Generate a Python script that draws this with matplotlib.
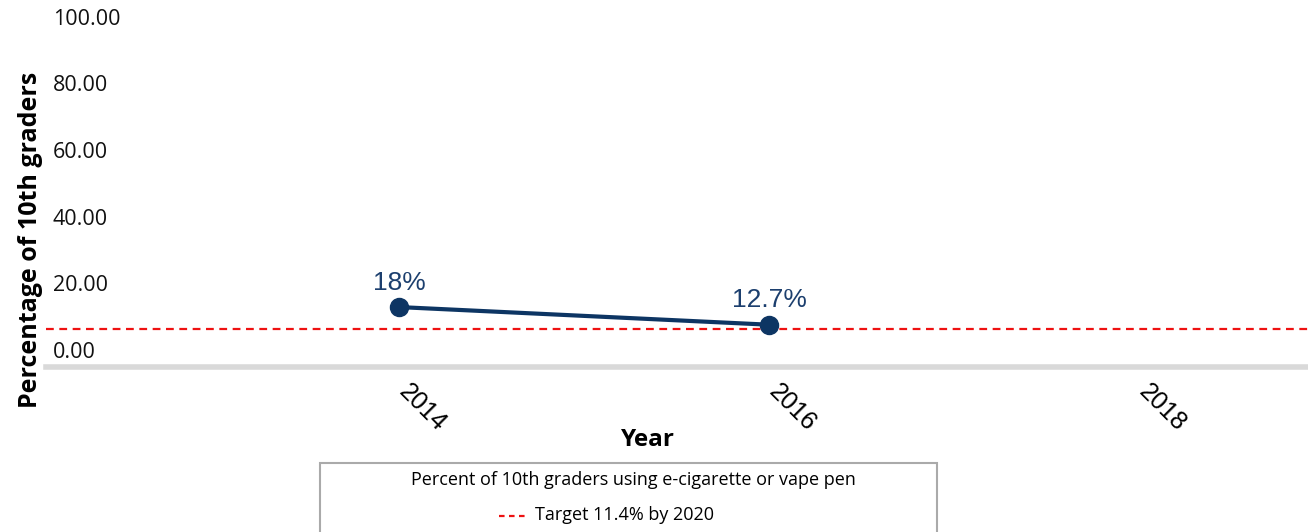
import numpy as np
import matplotlib.pyplot as plt
import matplotlib.transforms as mtransforms
from matplotlib.patches import Rectangle
from matplotlib.lines import Line2D

years = ["2014", "2016", "2018"]
values = [18.0, 12.7]
value_labels = ["18%", "12.7%"]
target = 11.4
yticks = [0, 20, 40, 60, 80, 100]

W, H = 1308, 532
fig = plt.figure(figsize=(W / 100, H / 100), dpi=100)
ax = fig.add_axes([46 / W, (H - 367) / H, (W - 46) / W, (367 - 34) / H])

x = np.arange(len(years))
ax.plot(x[:len(values)], values, color="#0d3563", lw=3, marker="o",
        ms=13, mec="#0d3563", mfc="#0d3563", zorder=4, clip_on=False)
for xi, v, lab in zip(x, values, value_labels):
    ax.annotate(lab, (xi, v), xytext=(0, 9), textcoords="offset points",
                ha="center", va="bottom", fontsize=19, color="#1c3f6e",
                family="Liberation Sans")

ax.axhline(target, color="#ee1111", lw=1.6, ls=(0, (3.5, 2.5)), zorder=3)

ax.set_ylim(0, 100)
ax.set_xlim(-0.954, 2.457)
for s in ["top", "right", "left"]:
    ax.spines[s].set_visible(False)
ax.spines["bottom"].set_color("#d9d9d9")
ax.spines["bottom"].set_linewidth(4)

ax.set_yticks([])
for t in yticks:
    ax.annotate(f"{t:.2f}", (0.0055, t), xycoords=("axes fraction", "data"),
                xytext=(0, 3), textcoords="offset points", ha="left",
                va="bottom", fontsize=15.5, family="Open Sans", color="#111111")

ax.set_xticks(x)
ax.set_xticklabels(years, rotation=-45, ha="left", va="top",
                   rotation_mode="anchor", fontsize=18,
                   family="Liberation Sans")
ax.tick_params(axis="x", length=0, pad=9)
shift = mtransforms.ScaledTranslation(12 / 100, 0, fig.dpi_scale_trans)
for lab in ax.get_xticklabels():
    lab.set_transform(lab.get_transform() + shift)

ax.set_xlabel("Year", fontsize=17.5, fontweight="bold", family="Open Sans",
              labelpad=0)
ax.xaxis.set_label_coords((648 - 46) / (W - 46), (367 - 440) / (367 - 34))
ax.xaxis.label.set_va("center")

fig.text(31 / W, 1 - 240 / H, "Percentage of 10th graders", rotation=90,
         ha="center", va="center", fontsize=18, fontweight="bold",
         family="Open Sans")

# legend box (cut off at the bottom)
fig.patches.append(Rectangle((320 / W, -0.05), (937 - 320) / W,
                             (H - 463) / H + 0.05, transform=fig.transFigure,
                             fill=False, ec="#aaaaaa", lw=1.5))
fig.text(633 / W, 1 - 480 / H,
         "Percent of 10th graders using e-cigarette or vape pen",
         ha="center", va="center", fontsize=13, family="Open Sans")
fig.lines.append(Line2D([499 / W, 527 / W], [1 - 516 / H] * 2,
                       transform=fig.transFigure, color="#ee1111", lw=1.6,
                       ls=(0, (2.5, 2))))
fig.text(535 / W, 1 - 515 / H, "Target 11.4% by 2020", ha="left",
         va="center", fontsize=13, family="Open Sans")

fig.savefig("out.png", dpi=100)
